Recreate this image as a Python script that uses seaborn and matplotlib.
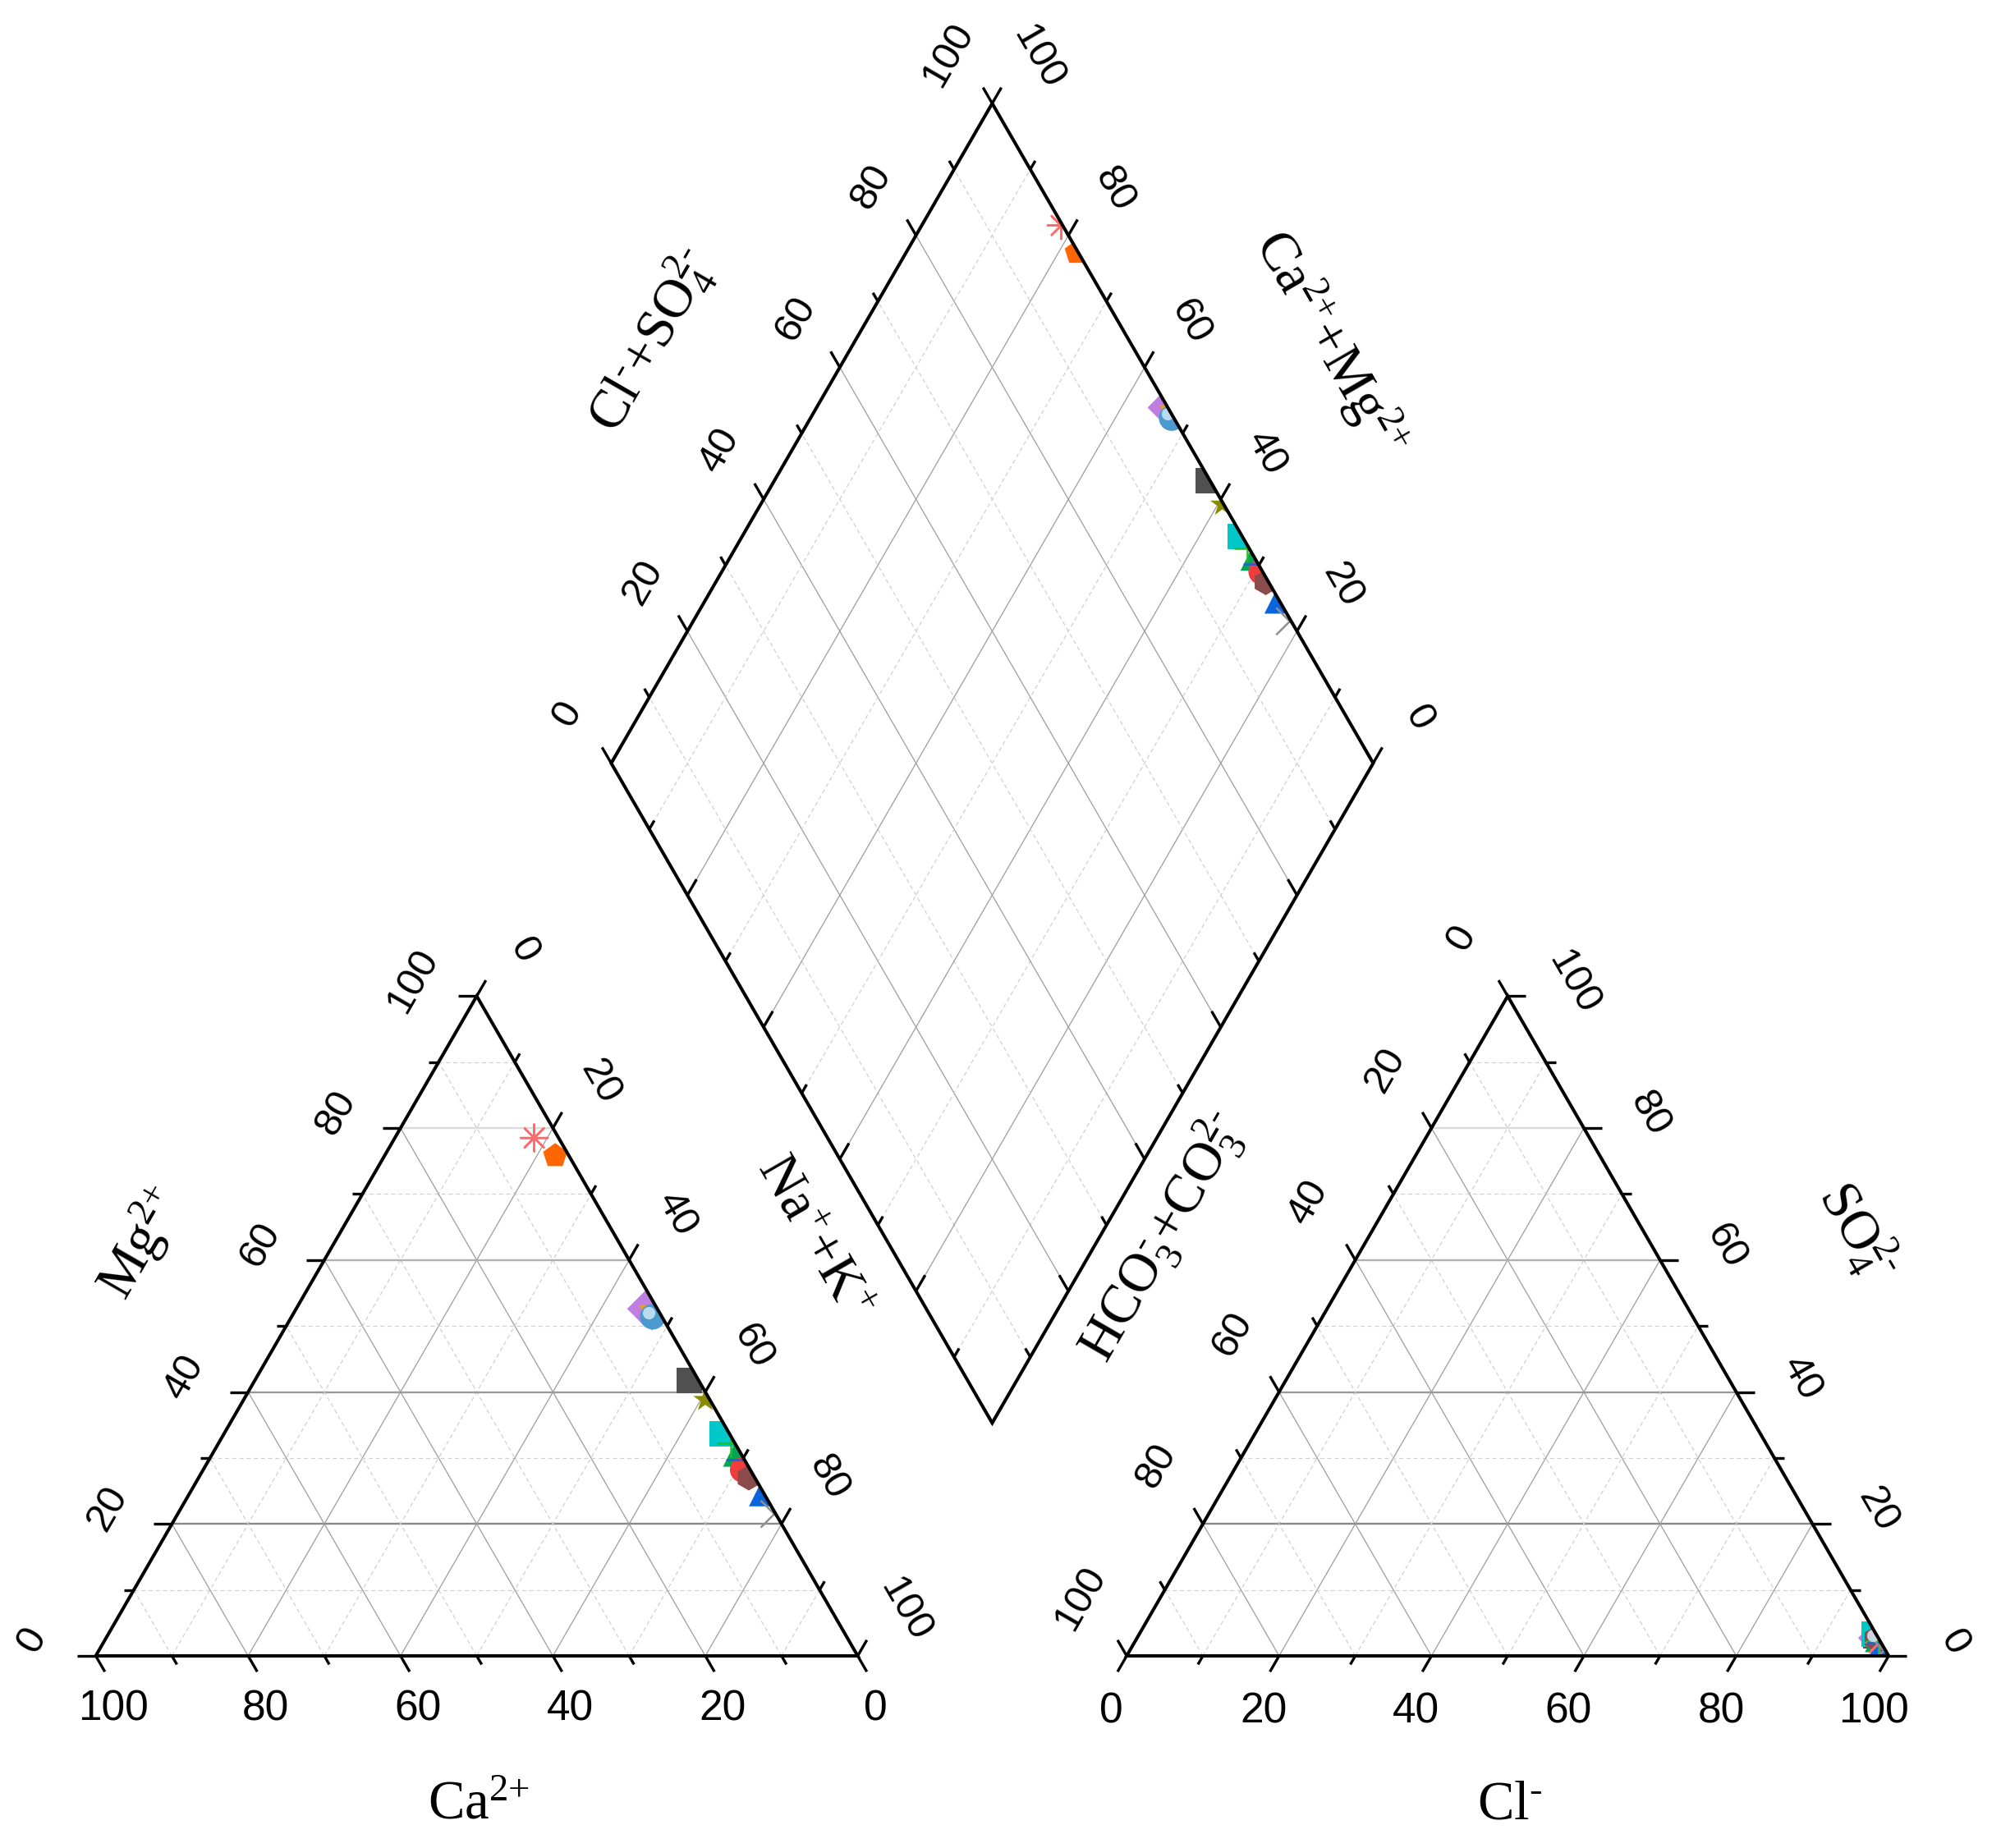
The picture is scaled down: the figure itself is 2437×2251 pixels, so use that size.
import numpy as np
import pandas as pd
import matplotlib
matplotlib.use("Agg")
import matplotlib.pyplot as plt
from matplotlib.patches import Polygon
from matplotlib.transforms import offset_copy
import seaborn as sns

# ---------------- data (meq %) ----------------
samples = ["S1", "S2", "S3", "S4", "S5", "S6", "S7", "S8", "S9", "S10",
           "S11", "S12", "S13", "S14", "S15"]
ca   = [3.2, 1.8, 1.6, 1.4, 1.2, 1.2, 0.6, 1.0, 0.6, 0.7, 0.6, 1.0, 0.8, 0.3, 0.2]
mg   = [78.5, 75.8, 52.6, 51.2, 51.4, 41.8, 38.8, 33.6, 32.2, 30.6, 29.8, 28.2, 27.0, 24.6, 21.5]
na_k = [18.3, 22.4, 45.8, 47.4, 47.4, 57.0, 60.6, 65.4, 67.2, 68.7, 69.6, 70.8, 72.2, 75.1, 78.3]
cl   = [97.8, 98.5, 97.0, 97.5, 97.2, 96.8, 98.0, 96.5, 97.6, 97.3, 97.8, 98.8, 97.0, 98.2, 99.0]
so4  = [2.0, 1.3, 2.7, 2.3, 2.5, 3.0, 1.8, 3.3, 2.2, 2.5, 2.0, 1.0, 2.6, 1.5, 0.8]
hco3 = [0.2, 0.2, 0.3, 0.2, 0.3, 0.2, 0.2, 0.2, 0.2, 0.2, 0.2, 0.2, 0.4, 0.3, 0.2]
ticks = [0, 20, 40, 60, 80, 100]

# ---------------- styles ----------------
marker_map = {"S1": (8, 2, 0), "S2": "p", "S3": "D", "S4": "v", "S5": "o", "S6": "s",
              "S7": "*", "S8": "s", "S9": "+", "S10": "^", "S11": "_", "S12": "o",
              "S13": "h", "S14": "^", "S15": "x"}
color_map = {"S1": "#ff6a6a", "S2": "#ff6600", "S3": "#c07ee0", "S4": "#e0a030",
             "S5": "#4a9ad0", "S6": "#505050", "S7": "#8b8b00", "S8": "#00c8c8",
             "S9": "#22c022", "S10": "#00a656", "S11": "#2060d0", "S12": "#f03c3c",
             "S13": "#8b4b4b", "S14": "#0a64dc", "S15": "#909090"}
line_art = {"S1", "S9", "S11", "S15"}

sns.set_theme(style="white")
plt.rcParams["font.family"] = ["Liberation Sans", "DejaVu Sans"]
plt.rcParams["mathtext.fontset"] = "custom"
plt.rcParams["mathtext.rm"] = "Liberation Serif"

W, H = 2437, 2251
S = 9.28                      # pixels per unit
X0, Y0 = 116.6, 234.0         # pixel position of the cation triangle's bottom-left corner
GAP = 35.3
RX = 100 + GAP                # anion triangle origin
H3 = np.sqrt(3) / 2
BX, BY = 100 + GAP / 2, (GAP / 2) * np.sqrt(3)   # diamond bottom vertex

fig = plt.figure(figsize=(W / 100, H / 100), dpi=100)
ax = fig.add_axes([0, 0, 1, 1])
ax.set_xlim(-X0 / S, (W - X0) / S)
ax.set_ylim(-Y0 / S, (H - Y0) / S)
ax.set_axis_off()


def tri(ox, bl, br, top):
    tot = bl + br + top
    bl, br, top = 100 * bl / tot, 100 * br / tot, 100 * top / tot
    return ox + br + top / 2, top * H3


def dia(a, c):   # a = Cl+SO4, c = Ca+Mg
    return BX + 0.5 * a - 0.5 * c, BY + H3 * (a + c)


def seg(p, q, **kw):
    ax.plot([p[0], q[0]], [p[1], q[1]], clip_on=False, **kw)


major_kw = dict(color="#9c9c9c", lw=0.9, zorder=1)
minor_kw = dict(color="#d0d0d0", lw=0.9, ls=(0, (4, 3)), zorder=1)
hcolors = {20: "#888888", 40: "#9a9a9a", 60: "#b0b0b0", 80: "#dcdcdc"}

# ---------------- triangle grids ----------------
for ox in (0, RX):
    for v in range(10, 100, 10):
        kw = major_kw if v % 20 == 0 else minor_kw
        if v % 20 == 0:
            seg(tri(ox, 100 - v, 0, v), tri(ox, 0, 100 - v, v), color=hcolors[v], lw=1.7, zorder=1)
        else:
            seg(tri(ox, 100 - v, 0, v), tri(ox, 0, 100 - v, v), **minor_kw)
        seg(tri(ox, v, 100 - v, 0), tri(ox, v, 0, 100 - v), **kw)
        seg(tri(ox, 100 - v, v, 0), tri(ox, 0, v, 100 - v), **kw)

# ---------------- diamond grid ----------------
for v in range(10, 100, 10):
    kw = major_kw if v % 20 == 0 else minor_kw
    seg(dia(v, 0), dia(v, 100), **kw)
    seg(dia(0, v), dia(100, v), **kw)

# ---------------- outlines ----------------
left_poly = [tri(0, 100, 0, 0), tri(0, 0, 100, 0), tri(0, 0, 0, 100)]
right_poly = [tri(RX, 100, 0, 0), tri(RX, 0, 100, 0), tri(RX, 0, 0, 100)]
dia_poly = [dia(0, 0), dia(100, 0), dia(100, 100), dia(0, 100)]
for poly in (left_poly, right_poly, dia_poly):
    ax.add_patch(Polygon(poly, closed=True, fill=False, ec="black", lw=2.9,
                         joinstyle="miter", zorder=5))

# ---------------- ticks ----------------
c60, s60 = 0.5, H3
tick_kw = dict(color="black", lw=2.4, zorder=5, solid_capstyle="butt")


def tick(p, d, major):
    L = 2.4 if major else 1.3
    seg(p, (p[0] + d[0] * L, p[1] + d[1] * L), **tick_kw)


for v in range(0, 101, 10):
    mj = v % 20 == 0
    tick(tri(0, v, 100 - v, 0), (c60, -s60), mj)          # Ca (bottom)
    tick(tri(0, 100 - v, 0, v), (-1, 0), mj)              # Mg (left)
    tick(tri(0, 0, v, 100 - v), (c60, s60), mj)           # Na+K (right)
    tick(tri(RX, 100 - v, v, 0), (-c60, -s60), mj)        # Cl (bottom)
    tick(tri(RX, v, 0, 100 - v), (-c60, s60), mj)         # HCO3 (left)
    tick(tri(RX, 0, 100 - v, v), (1, 0), mj)              # SO4 (right)
    tick(dia(v, 100), (-c60, s60), mj)                    # Cl+SO4 upper-left
    tick(dia(100, v), (c60, s60), mj)                     # Ca+Mg upper-right
    tick(dia(0, v), (c60, s60), mj)                       # lower-left (inward)
    tick(dia(v, 0), (-c60, s60), mj)                      # lower-right (inward)

# ---------------- tick labels ----------------
tl_rot = dict(fontsize=35, ha="center", va="center", rotation_mode="anchor", color="black")
tl_bot = dict(fontsize=37, ha="center", va="center", color="black",
              family=["Liberation Sans Narrow", "Liberation Sans", "DejaVu Sans"])


def lab(p, off, txt, rot, kw):
    ax.text(p[0] + off[0], p[1] + off[1], txt, rotation=rot, **kw)


for v in ticks:
    t = str(v)
    lab(tri(0, v, 100 - v, 0), (2.3, -7.0), t, 0, tl_bot)
    lab(tri(0, 100 - v, 0, v), (-8.4, 2.0), t, 60, tl_rot)
    lab(tri(0, 0, v, 100 - v), (6.2, 6.0), t, -60, tl_rot)
    lab(tri(RX, 100 - v, v, 0), (-2.0, -7.3), t, 0, tl_bot)
    lab(tri(RX, v, 0, 100 - v), (-6.1, 7.6), t, 60, tl_rot)
    lab(tri(RX, 0, 100 - v, v), (8.6, 1.8), t, -60, tl_rot)
    lab(dia(v, 100), (-5.8, 6.4), t, 60, tl_rot)
    lab(dia(100, v), (6.0, 6.0), t, -60, tl_rot)

# ---------------- axis titles ----------------
tt = dict(fontsize=48, ha="center", va="center", rotation_mode="anchor",
          family=["Liberation Serif", "DejaVu Serif"], color="black")
ax.text(50.3, -19.6, r"$\mathregular{Ca^{2{+}}}$", **tt)
ax.text(185.6, -19.6, r"$\mathregular{Cl^{\text{-}}}$", **tt)
ax.text(5.9, 54.1, r"$\mathregular{Mg^{2{+}}}$", rotation=60, **tt)
ax.text(94.3, 55.0, r"$\mathregular{Na^{+}{+}K^{+}}$", rotation=-60, **tt)
ax.text(139.9, 55.0, r"$\mathregular{HCO_3^{\text{-}}{+}CO_3^{2\text{-}}}$", rotation=60, **tt)
ax.text(231.2, 55.8, r"$\mathregular{SO_4^{2\text{-}}}$", rotation=-60, **tt)
ax.text(72.9, 172.6, r"$\mathregular{Cl^{\text{-}}{+}SO_4^{2\text{-}}}$", rotation=60, **tt)
ax.text(162.0, 172.2, r"$\mathregular{Ca^{2{+}}{+}Mg^{2{+}}}$", rotation=-60, **tt)

# ---------------- data points ----------------
df = pd.DataFrame({"sample": samples, "ca": ca, "mg": mg, "na_k": na_k,
                   "cl": cl, "so4": so4, "hco3": hco3})
df["lx"], df["ly"] = tri(0, df["ca"], df["na_k"], df["mg"])
df["rx"], df["ry"] = tri(RX, df["hco3"], df["cl"], df["so4"])
tot_c = df["ca"] + df["mg"] + df["na_k"]
tot_a = df["cl"] + df["so4"] + df["hco3"]
df["dx"], df["dy"] = dia(100 * (df["cl"] + df["so4"]) / tot_a, 100 * (df["ca"] + df["mg"]) / tot_c)

clip_polys = {"l": left_poly, "r": right_poly, "d": dia_poly}
for key in ("l", "r", "d"):
    clip = Polygon(clip_polys[key], closed=True, transform=ax.transData)
    for art in (False, True):
        sub = df[df["sample"].isin(line_art) == art]
        mk = {s: marker_map[s] for s in sub["sample"]}
        pal = {s: color_map[s] for s in sub["sample"]}
        extra = dict(linewidth=1.8) if art else dict(linewidth=0, edgecolor="none")
        sns.scatterplot(data=sub, x=key + "x", y=key + "y", hue="sample", style="sample",
                        markers=mk, palette=pal, s=560 if art else 500, legend=False,
                        ax=ax, zorder=3, **extra)
        ax.collections[-1].set_clip_path(clip)
    # specular highlight on the "sphere" sample
    sph = df[df["sample"] == "S5"]
    hl = ax.scatter(sph[key + "x"], sph[key + "y"], s=120, color="#cfe6f6", lw=0, zorder=3.5,
                    alpha=0.85,
                    transform=offset_copy(ax.transData, fig=fig, x=-3.5, y=3.5, units="points"))
    hl.set_clip_path(clip)

ax.set_xlim(-X0 / S, (W - X0) / S)
ax.set_ylim(-Y0 / S, (H - Y0) / S)
ax.set_xlabel("")
ax.set_ylabel("")
fig.savefig("out.png", dpi=100, facecolor="white")
